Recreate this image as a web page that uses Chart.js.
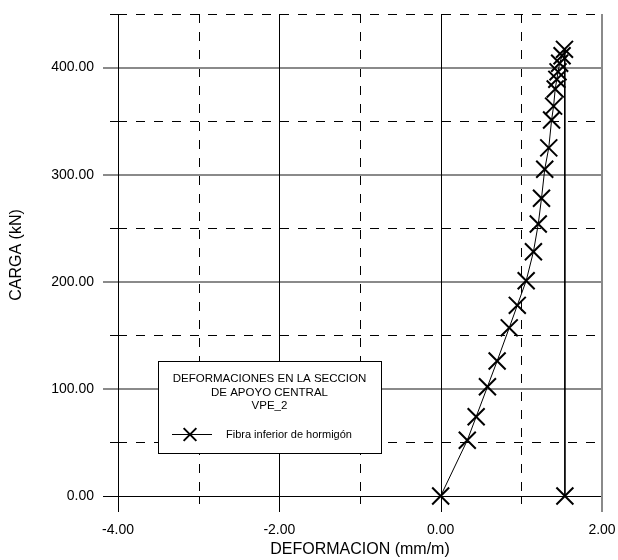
<!doctype html>
<html lang="es">
<head>
<meta charset="utf-8">
<title>Deformaciones VPE_2</title>
<script src="https://cdn.jsdelivr.net/npm/chart.js@4.4.1/dist/chart.umd.min.js"></script>
<style>
  html, body { margin: 0; padding: 0; background: #fff; }
  #wrap { width: 618px; height: 560px; }
</style>
</head>
<body>
<div id="wrap"><canvas id="grafico" width="618" height="560"></canvas></div>
<script>
// valores (mm/m y kN)
var deformacion = [0.00, 0.33, 0.44, 0.58, 0.70, 0.85, 0.95, 1.06, 1.15, 1.21, 1.25, 1.29, 1.34, 1.375, 1.40, 1.42, 1.44, 1.455, 1.475, 1.505, 1.535, 1.54];
var carga = [0, 52, 74, 102, 126, 157, 178, 201, 228, 254, 278, 305, 325, 351, 364, 380, 389, 396, 404, 411, 417, 0];

var xMayor = [-4, -2, 0, 2];
var xMenor = [-3, -1, 1];
var yMayor = [0, 100, 200, 300, 400];
var yMenor = [50, 150, 250, 350, 450];

var serie = 'Fibra inferior de hormigón';
var tituloLeyenda = ['DEFORMACIONES EN LA SECCION', 'DE APOYO CENTRAL', 'VPE_2'];

var puntos = deformacion.map(function(d, i) { return {x: d, y: carga[i]}; });

Chart.defaults.font.family = '"Liberation Sans", Arial, sans-serif';
Chart.defaults.color = '#000';

function nitido(p) { return Math.round(p) + 0.5; }

function linea(ctx, x1, y1, x2, y2) {
    ctx.beginPath();
    ctx.moveTo(x1, y1);
    ctx.lineTo(x2, y2);
    ctx.stroke();
}

// rejilla: continuas en las marcas mayores, discontinuas en las menores
var rejilla = {
    id: 'rejilla',
    beforeDatasetsDraw: function(chart) {
        var ctx = chart.ctx, a = chart.chartArea;
        var sx = chart.scales.x, sy = chart.scales.y;
        ctx.save();

        ctx.strokeStyle = '#000';
        ctx.lineWidth = 1;
        xMenor.forEach(function(v) {
            var px = nitido(sx.getPixelForValue(v));
            ctx.setLineDash([9, 9]);
            linea(ctx, px, a.top, px, a.bottom);
            ctx.setLineDash([]);
            linea(ctx, px, a.bottom, px, a.bottom + 8);
        });
        yMenor.forEach(function(v) {
            var py = nitido(sy.getPixelForValue(v));
            ctx.setLineDash([9, 9]);
            linea(ctx, a.left, py, a.right, py);
            ctx.setLineDash([]);
            linea(ctx, a.left - 8, py, a.left, py);
        });

        yMayor.forEach(function(v) {
            var py = sy.getPixelForValue(v);
            if (v === 0) {
                ctx.strokeStyle = '#000';
                ctx.lineWidth = 1;
                py = nitido(py);
            } else {
                ctx.strokeStyle = '#8a8a8a';
                ctx.lineWidth = 2;
                py = Math.round(py);
            }
            linea(ctx, a.left - 15, py, a.right, py);
        });

        xMayor.forEach(function(v) {
            var px = sx.getPixelForValue(v);
            if (v === 2) {
                ctx.strokeStyle = '#8a8a8a';
                ctx.lineWidth = 2;
                px = Math.round(px);
            } else {
                ctx.strokeStyle = '#000';
                ctx.lineWidth = 1;
                px = nitido(px);
            }
            linea(ctx, px, a.top, px, a.bottom + 16);
        });
        ctx.restore();
    }
};

// cuadro de leyenda con titulo, dentro del area del grafico
var leyenda = {
    id: 'leyenda',
    afterDatasetsDraw: function(chart) {
        var ctx = chart.ctx, a = chart.chartArea;
        var ds = chart.data.datasets[0];
        var x0 = a.left + 40, y0 = a.top + 347, w = 223, h = 92;
        ctx.save();
        ctx.fillStyle = '#fff';
        ctx.fillRect(x0, y0, w, h);
        ctx.strokeStyle = '#000';
        ctx.lineWidth = 1;
        ctx.strokeRect(x0 + 0.5, y0 + 0.5, w, h);

        ctx.fillStyle = '#000';
        ctx.font = '11.5px "Liberation Sans", Arial, sans-serif';
        ctx.textAlign = 'center';
        ctx.textBaseline = 'middle';
        tituloLeyenda.forEach(function(t, i) {
            ctx.fillText(t, x0 + w / 2, y0 + 18 + i * 13.5);
        });

        var ly = y0 + 73.5;
        linea(ctx, x0 + 14, ly, x0 + 54, ly);
        ctx.lineWidth = 2;
        Chart.helpers.drawPoint(ctx, {pointStyle: ds.pointStyle, radius: 9, rotation: 0, borderWidth: 2}, x0 + 32, ly);

        ctx.font = '11px "Liberation Sans", Arial, sans-serif';
        ctx.textAlign = 'left';
        ctx.fillText(ds.label, x0 + 68, ly);
        ctx.restore();
    }
};

new Chart(document.getElementById('grafico'), {
    type: 'scatter',
    data: {
        datasets: [{
            label: serie,
            data: puntos,
            showLine: true,
            borderColor: '#000',
            borderWidth: 1,
            pointStyle: 'crossRot',
            pointRadius: 12,
            pointBorderWidth: 2,
            pointBorderColor: '#000',
            pointBackgroundColor: '#000',
            clip: false
        }]
    },
    options: {
        responsive: false,
        animation: false,
        events: [],
        layout: { padding: { top: 12, right: 16, left: 0, bottom: 0 } },
        plugins: {
            legend: { display: false },
            tooltip: { enabled: false }
        },
        scales: {
            x: {
                type: 'linear',
                min: -4,
                max: 2,
                afterBuildTicks: function(scale) {
                    scale.ticks = xMayor.map(function(v) { return {value: v}; });
                },
                afterFit: function(scale) {
                    scale.height = 64;
                    scale.paddingLeft = 0;
                    scale.paddingRight = 0;
                },
                grid: { display: false, drawTicks: false },
                border: { display: false },
                ticks: {
                    font: { size: 14 },
                    padding: 26,
                    maxRotation: 0,
                    autoSkip: false,
                    callback: function(v) { return Number(v).toFixed(2); }
                },
                title: {
                    display: true,
                    text: 'DEFORMACION (mm/m)',
                    font: { size: 16 },
                    padding: { top: 0, bottom: 1 }
                }
            },
            y: {
                type: 'linear',
                min: 0,
                max: 450,
                afterBuildTicks: function(scale) {
                    scale.ticks = yMayor.map(function(v) { return {value: v}; });
                },
                afterFit: function(scale) {
                    scale.width = 118;
                    scale.paddingTop = 0;
                    scale.paddingBottom = 0;
                },
                grid: { display: false, drawTicks: false },
                border: { display: false },
                ticks: {
                    font: { size: 14 },
                    padding: 24,
                    autoSkip: false,
                    callback: function(v) { return Number(v).toFixed(2); }
                },
                title: {
                    display: true,
                    text: 'CARGA (kN)',
                    font: { size: 16 },
                    padding: { top: 7, bottom: 0 }
                }
            }
        }
    },
    plugins: [rejilla, leyenda]
});
</script>
</body>
</html>
